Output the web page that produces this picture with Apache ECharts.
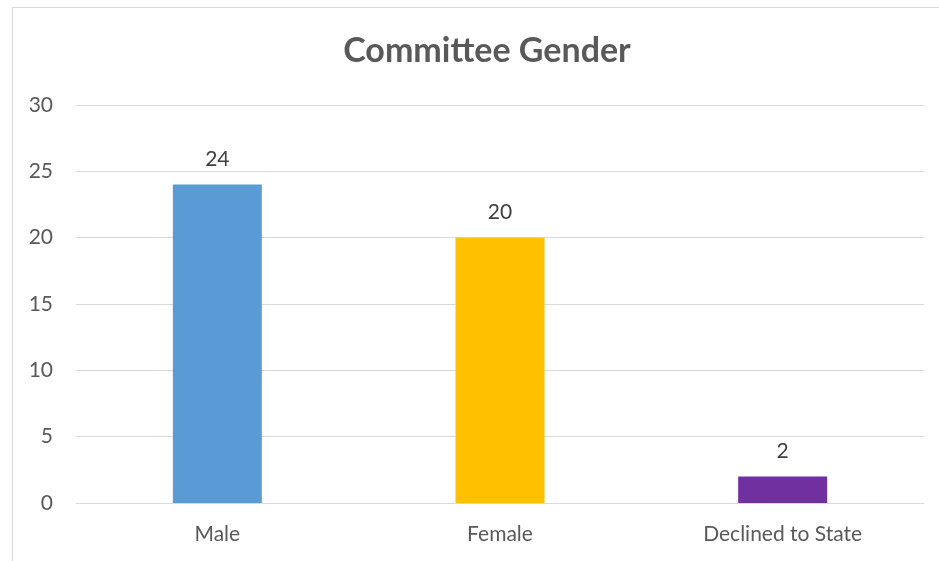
<!DOCTYPE html>
<html><head><meta charset="utf-8">
<script src="https://cdn.jsdelivr.net/npm/echarts@6/dist/echarts.min.js"></script>
<style>
html,body{margin:0;padding:0;background:#fff;overflow:hidden}
#frame{position:absolute;left:12px;top:7px;width:1000px;height:700px;border:1px solid #d9d9d9;box-sizing:border-box}
#c{position:absolute;left:0;top:0;width:939px;height:561px}
</style></head>
<body>
<div id="frame"></div>
<div id="c"></div>
<script>
var categories = ['Male', 'Female', 'Declined to State'];
var values = [24, 20, 2];
var barColors = ['#5B9BD5', '#FFC000', '#7030A0'];
var yTicks = [0, 5, 10, 15, 20, 25, 30];

var chart = echarts.init(document.getElementById('c'));
var font = 'Lato, "Open Sans", sans-serif';
chart.setOption({
  animation: false,
  title: {
    text: 'Committee Gender', left: 482, top: 29, textAlign: 'center',
    textStyle: {fontFamily: font, fontSize: 34, fontWeight: 'bold', color: '#595959'}
  },
  grid: {left: 76, right: 15, top: 105, bottom: 58, containLabel: false},
  xAxis: {
    type: 'category', data: categories,
    axisLine: {lineStyle: {color: '#d9d9d9', width: 1}},
    axisTick: {show: false},
    axisLabel: {fontFamily: font, fontSize: 21, color: '#595959', margin: 21}
  },
  yAxis: {
    type: 'value', min: yTicks[0], max: yTicks[yTicks.length - 1], interval: 5,
    axisLine: {show: false}, axisTick: {show: false},
    splitLine: {lineStyle: {color: '#d9d9d9', width: 1}},
    axisLabel: {fontFamily: font, fontSize: 21, color: '#595959', margin: 23}
  },
  series: [{
    type: 'bar', barWidth: 89,
    data: values.map(function (v, i) { return {value: v, itemStyle: {color: barColors[i]}}; }),
    label: {show: true, position: 'top', distance: 15, fontFamily: font, fontSize: 21, color: '#404040'}
  }]
});
</script>
</body></html>
